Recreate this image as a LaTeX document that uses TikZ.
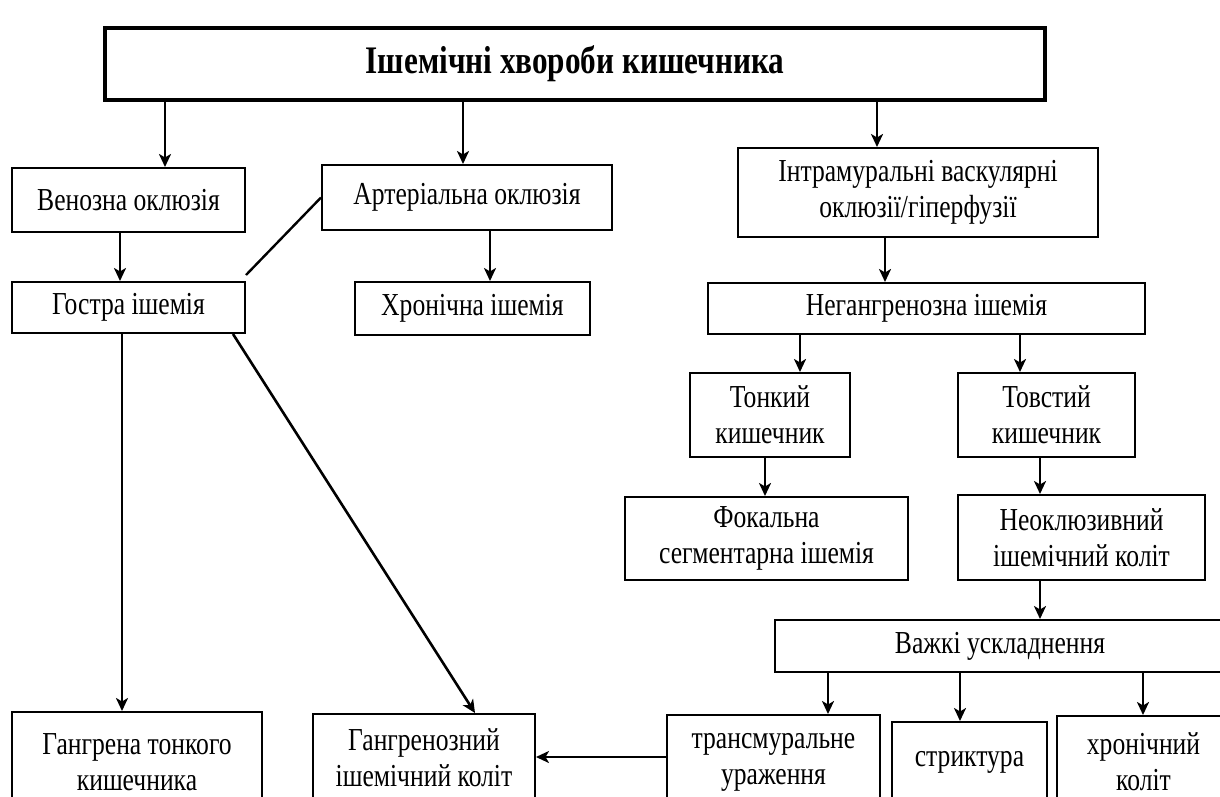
\documentclass[tikz,border=0pt]{standalone}
\usepackage{fontspec}
\setmainfont{Liberation Serif}[FakeStretch=0.8]
\usetikzlibrary{arrows.meta}
\begin{document}
\begin{tikzpicture}[x=1pt,y=-1pt,
  box/.style={draw=black,line width=2pt,align=center,inner sep=2pt,
    font=\fontsize{32}{36}\selectfont},
  arr/.style={line width=2.6pt,-{Stealth[length=13pt,width=12pt,inset=3.5pt]}},
  ln/.style={line width=2.4pt}]
\useasboundingbox (0,0) rectangle (1220,796);
\clip (0,0) rectangle (1220,796);
\fill[white] (0,0) rectangle (1220,796);
% nodes
\node[box,line width=3.4pt,minimum width=940pt,minimum height=72pt,font=\fontsize{39}{40}\selectfont\bfseries] (top) at (575,64) {Ішемічні хвороби кишечника};
\node[box,minimum width=233pt,minimum height=64pt] (ven) at (128.5,200) {Венозна оклюзія};
\node[box,minimum width=290pt,minimum height=65pt] (art) at (467,197.5) {Артеріальна оклюзія};
\node[box,minimum width=233pt,minimum height=51pt] (gos) at (128.5,307.5) {Гостра ішемія};
\node[box,minimum width=235pt,minimum height=53pt] (khr) at (472.5,308.5) {Хронічна ішемія};
\node[box,minimum width=360pt,minimum height=89pt] (intr) at (918,192.5) {Інтрамуральні васкулярні\\оклюзії/гіперфузії};
\node[box,minimum width=437pt,minimum height=51pt] (neg) at (926.5,308.5) {Негангренозна ішемія};
\node[box,minimum width=160pt,minimum height=84pt] (ton) at (770,415) {Тонкий\\кишечник};
\node[box,minimum width=177pt,minimum height=84pt] (tov) at (1046.5,415) {Товстий\\кишечник};
\node[box,minimum width=283pt,minimum height=83pt] (fok) at (766.5,538.5) {Фокальна\\сегментарна ішемія};
\node[box,minimum width=247pt,minimum height=85pt] (neo) at (1081.5,537.5) {Неоклюзивний\\ішемічний коліт};
\node[box,minimum width=450pt,minimum height=52pt] (vaz) at (1000,646) {Важкі ускладнення};
\node[box,minimum width=213pt,minimum height=94pt] (tra) at (773.5,762) {трансмуральне\\ураження};
\node[box,minimum width=155pt,minimum height=80pt] (str) at (969.5,762) {стриктура};
\node[box,minimum width=173pt,minimum height=92pt] (khk) at (1143.5,762) {хронічний\\коліт};
\node[box,minimum width=250pt,minimum height=100pt] (gtk) at (137,762) {Гангрена тонкого\\кишечника};
\node[box,minimum width=222pt,minimum height=88pt] (gik) at (424,758) {Гангренозний\\ішемічний коліт};
% connectors
\draw[arr] (top.south -| 165,0) -- (ven.north -| 165,0);
\draw[arr] (top.south -| 463,0) -- (art.north -| 463,0);
\draw[arr] (top.south -| 877,0) -- (intr.north -| 877,0);
\draw[arr] (ven.south -| 120,0) -- (gos.north -| 120,0);
\draw[ln] (art.west) -- ([yshift=6pt]gos.north east);
\draw[arr] (art.south -| 490,0) -- (khr.north -| 490,0);
\draw[arr] (gos.south -| 122,0) -- (gtk.north -| 122,0);
\draw[arr] (gos.south -| 233,0) -- (gik.north -| 475,0);
\draw[arr] (intr.south -| 885,0) -- (neg.north -| 885,0);
\draw[arr] (neg.south -| 800,0) -- (ton.north -| 800,0);
\draw[arr] (neg.south -| 1020,0) -- (tov.north -| 1020,0);
\draw[arr] (ton.south -| 765,0) -- (fok.north -| 765,0);
\draw[arr] (tov.south -| 1040,0) -- (neo.north -| 1040,0);
\draw[arr] (neo.south -| 1040,0) -- (vaz.north -| 1040,0);
\draw[arr] (vaz.south -| 828,0) -- (tra.north -| 828,0);
\draw[arr] (vaz.south -| 960,0) -- (str.north -| 960,0);
\draw[arr] (vaz.south -| 1143,0) -- (khk.north -| 1143,0);
\draw[arr] (tra.west |- 0,757) -- (gik.east |- 0,757);
\end{tikzpicture}
\end{document}
